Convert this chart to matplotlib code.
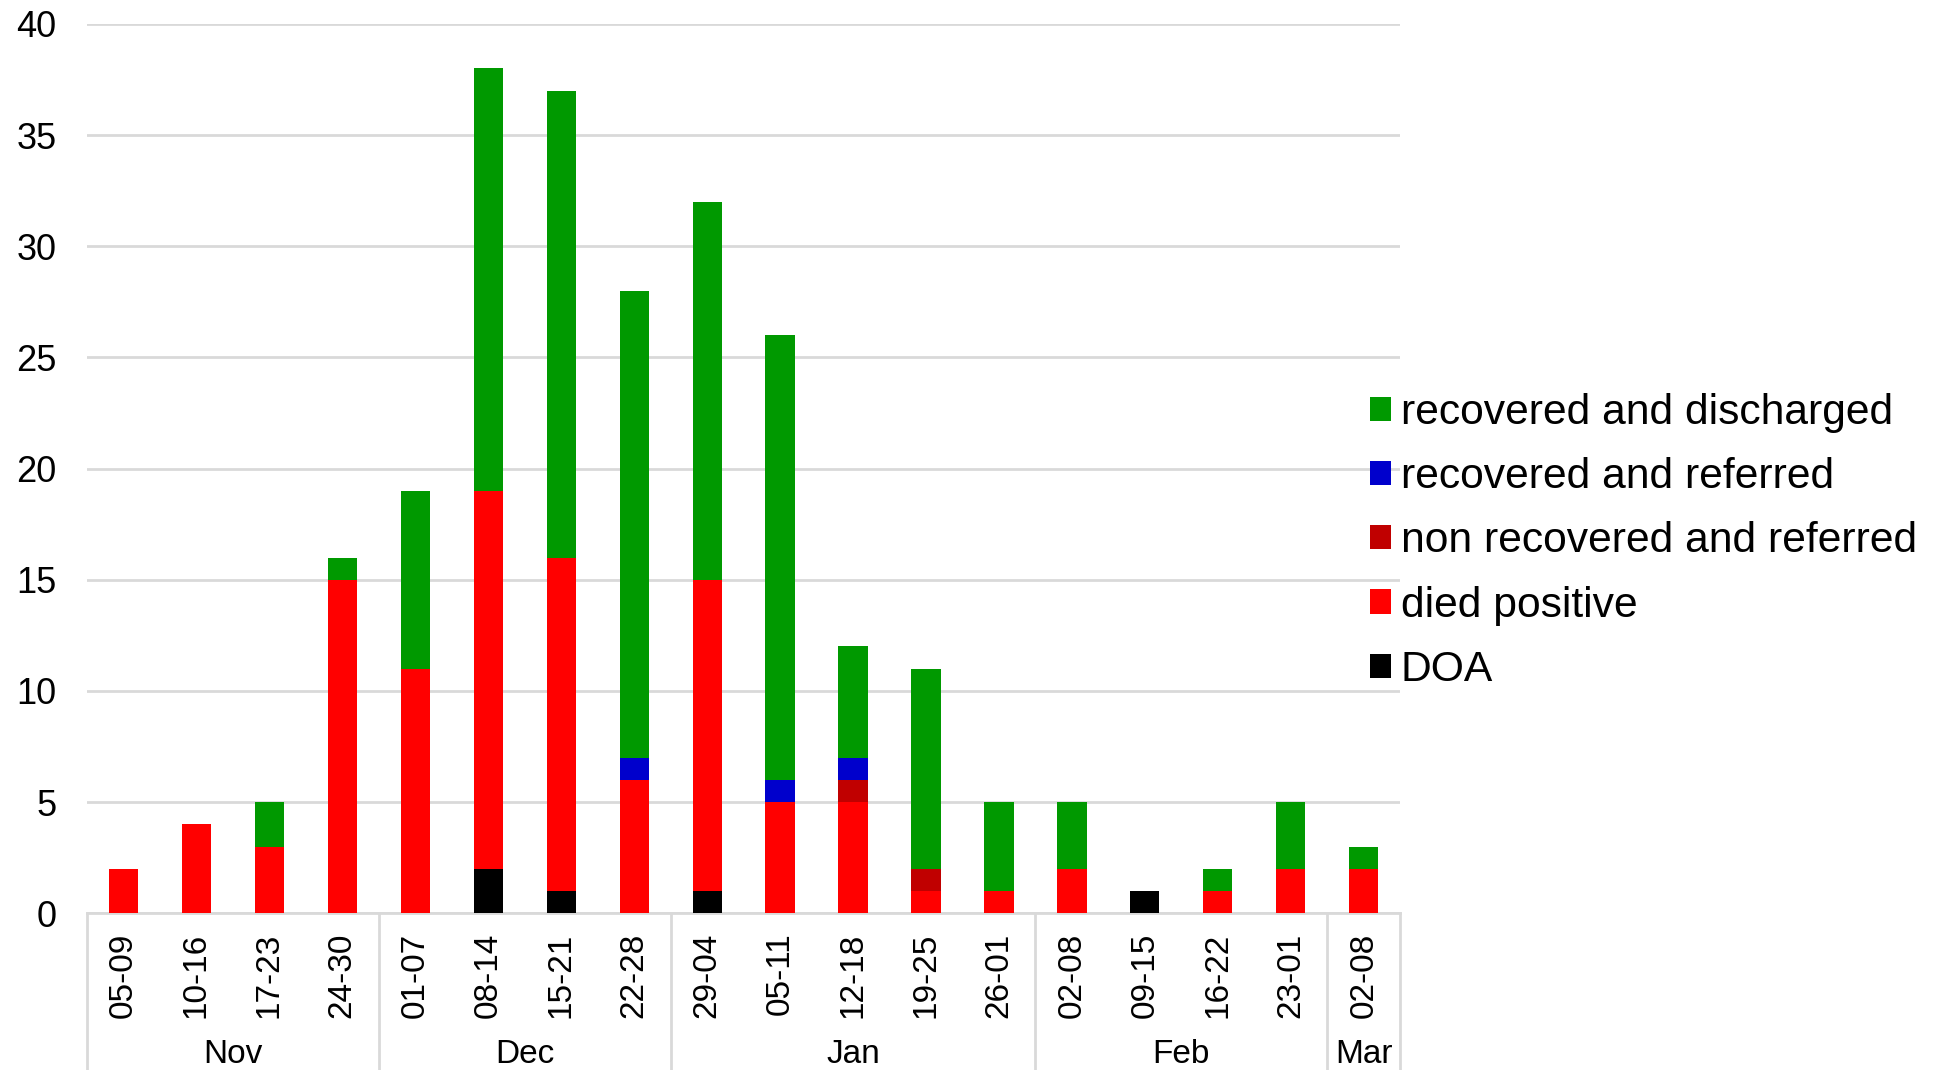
import matplotlib
matplotlib.use("Agg")
import matplotlib.pyplot as plt
import matplotlib.transforms as mtransforms
import numpy as np

plt.rcParams["font.family"] = ["Liberation Sans", "DejaVu Sans"]

# weekly outcome counts
weeks = ["05-09", "10-16", "17-23", "24-30",
         "01-07", "08-14", "15-21", "22-28",
         "29-04", "05-11", "12-18", "19-25", "26-01",
         "02-08", "09-15", "16-22", "23-01",
         "02-08"]
months = ["Nov", "Dec", "Jan", "Feb", "Mar"]
month_sizes = [4, 4, 5, 4, 1]

doa = [0, 0, 0, 0, 0, 2, 1, 0, 1, 0, 0, 0, 0, 0, 1, 0, 0, 0]
died_positive = [2, 4, 3, 15, 11, 17, 15, 6, 14, 5, 5, 1, 1, 2, 0, 1, 2, 2]
non_recovered_referred = [0, 0, 0, 0, 0, 0, 0, 0, 0, 0, 1, 1, 0, 0, 0, 0, 0, 0]
recovered_referred = [0, 0, 0, 0, 0, 0, 0, 1, 0, 1, 1, 0, 0, 0, 0, 0, 0, 0]
recovered_discharged = [0, 0, 2, 1, 8, 19, 21, 21, 17, 20, 5, 9, 4, 3, 0, 1, 3, 1]

series = [
    ("DOA", doa, "#000000"),
    ("died positive", died_positive, "#FF0000"),
    ("non recovered and referred", non_recovered_referred, "#C00000"),
    ("recovered and referred", recovered_referred, "#0000CC"),
    ("recovered and discharged", recovered_discharged, "#009900"),
]

fig = plt.figure(figsize=(19.41, 10.70), dpi=100)
ax = fig.add_axes([0.0448, 0.1465, 0.6766, 0.8311])

x = np.arange(len(weeks))
bottom = np.zeros(len(weeks))
handles = []
for name, vals, color in series:
    vals = np.array(vals, dtype=float)
    h = ax.bar(x, vals, width=0.4, bottom=bottom, color=color, label=name, zorder=3)
    handles.append(h)
    bottom += vals

ax.set_xlim(-0.5, len(weeks) - 0.5)
ax.set_ylim(0, 40)
ax.set_yticks(range(0, 41, 5))
ax.yaxis.grid(True, color="#d9d9d9", linewidth=2, zorder=0)
ax.set_axisbelow(True)
for side in ["left", "right", "top"]:
    ax.spines[side].set_visible(False)
ax.spines["bottom"].set_color("#d9d9d9")
ax.spines["bottom"].set_linewidth(2)

ax.set_xticks(x)
ax.set_xticklabels(weeks, rotation=90, fontsize=24)
ax.tick_params(axis="x", length=0, pad=14)
ax.tick_params(axis="y", length=0, pad=22, labelsize=26)

# month groups below the week labels
trans = mtransforms.blended_transform_factory(ax.transData, ax.transAxes)
start = 0
bounds = [-0.5]
for m, n in zip(months, month_sizes):
    center = start + (n - 1) / 2
    ax.text(center, -0.159, m, transform=trans, ha="center", va="center", fontsize=24)
    start += n
    bounds.append(start - 0.5)
for b in bounds:
    ax.plot([b, b], [0, -0.18], transform=trans, color="#d9d9d9", linewidth=2, clip_on=False)

leg = fig.legend(handles[::-1], [s[0] for s in series][::-1],
                 loc="center left", bbox_to_anchor=(0.697, 0.494),
                 frameon=False, fontsize=30.7, handlelength=0.5, handleheight=0.5,
                 handletextpad=0.22, labelspacing=0.57, borderaxespad=0)

fig.savefig("out.png", dpi=100)
